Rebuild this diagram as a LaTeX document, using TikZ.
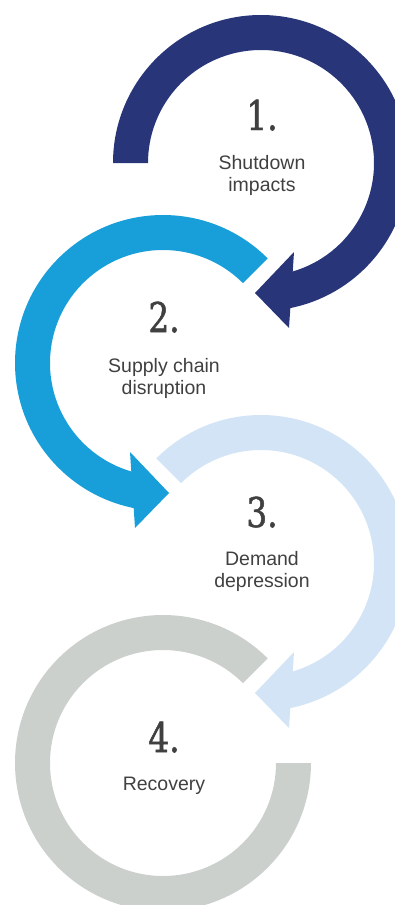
\documentclass[tikz,border=0pt]{standalone}
\usepackage{fontspec}
\setmainfont{Liberation Sans}
\newfontfamily\digitfont[FakeStretch=0.8,FakeBold=1.2]{DejaVu Serif}
\usetikzlibrary{calc}
\definecolor{navyring}{HTML}{283578}
\definecolor{bluering}{HTML}{189FD9}
\definecolor{palering}{HTML}{D2E4F5}
\definecolor{grayring}{HTML}{CBD0CD}
\definecolor{txtgray}{HTML}{404040}
\newcommand{\ringband}[4]{% center, start angle, end angle, colour
  \fill[#4] ($(#1)+(#2:148)$) arc[start angle=#2, end angle=#3, radius=148]
    -- ($(#1)+(#3:113)$) arc[start angle=#3, end angle=#2, radius=113] -- cycle;}
\begin{document}
\begin{tikzpicture}[x=1pt,y=-1pt,
  numtext/.style={anchor=base, font=\digitfont\fontsize{41}{41}\selectfont, text=txtgray, inner sep=0pt},
  labtext/.style={anchor=base, font=\fontsize{19.5}{22}\selectfont, text=txtgray, inner sep=0pt}]
\useasboundingbox (0,0) rectangle (395,905);
\clip (0,0) rectangle (395,905);
\coordinate (c1) at (261,163);
\coordinate (c2) at (163,363);
\coordinate (c3) at (261,563);
\coordinate (c4) at (163,763);
% ring 1
\ringband{c1}{180}{440}{navyring}
\fill[navyring] ($(c1)+(33,89)$) -- ($(c1)+(-6,130)$) -- ($(c1)+(28,165)$) -- cycle;
% ring 2
\ringband{c2}{315}{100}{bluering}
\fill[bluering] ($(c2)+(-33,89)$) -- ($(c2)+(6,130)$) -- ($(c2)+(-28,165)$) -- cycle;
% ring 3
\ringband{c3}{225}{440}{palering}
\fill[palering] ($(c3)+(33,89)$) -- ($(c3)+(-6,130)$) -- ($(c3)+(28,165)$) -- cycle;
% ring 4
\ringband{c4}{315}{0}{grayring}
% texts
\node[numtext] (n1) at (262,130) {1.};
\node[labtext] (s1a) at (262,169) {Shutdown};
\node[labtext] (s1b) at (262,191.5) {impacts};
\node[numtext] (n2) at (164,332) {2.};
\node[labtext] (s2a) at (164,372) {Supply chain};
\node[labtext] (s2b) at (164,394) {disruption};
\node[numtext] (n3) at (262,527) {3.};
\node[labtext] (s3a) at (262,565) {Demand};
\node[labtext] (s3b) at (262,587) {depression};
\node[numtext] (n4) at (164,752) {4.};
\node[labtext] (s4a) at (164,790) {Recovery};
\end{tikzpicture}
\end{document}
